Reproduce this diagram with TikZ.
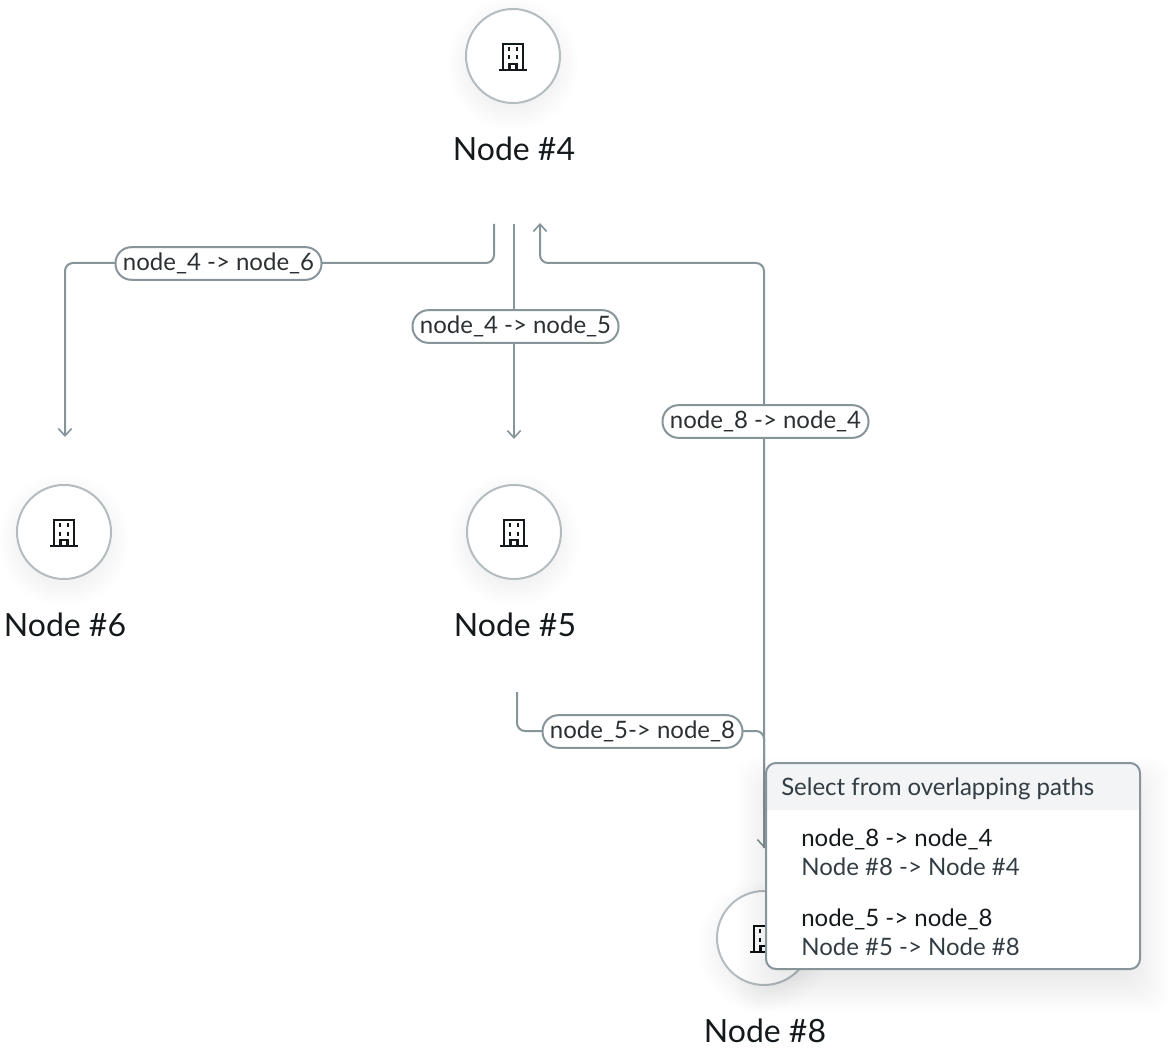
\documentclass[tikz,border=0pt]{standalone}
\usepackage{fontspec}
\setmainfont{Lato}
\usetikzlibrary{arrows.meta}
\definecolor{linec}{HTML}{87949A}
\definecolor{circc}{HTML}{B4BCC0}
\definecolor{inkc}{HTML}{14191C}
\definecolor{greyt}{HTML}{323D44}
\definecolor{headc}{HTML}{F2F4F6}
\tikzset{
  conn/.style={draw=linec,line width=1.5pt,rounded corners=6pt},
  arrowed/.style={-{Straight Barb[length=5.5pt,width=10pt,line width=1.2pt]}},
  nodecirc/.style={circle,draw=circc,line width=1.5pt,fill=white,minimum size=70.5pt,inner sep=0pt},
  nodelabel/.style={font=\fontsize{24}{28}\selectfont,text=inkc,inner sep=0pt,anchor=center},
  edgelabel/.style={draw=linec,line width=1.5pt,fill=white,rounded corners=12pt,font=\fontsize{18}{21}\selectfont,text=inkc!90!white,minimum height=24.5pt,inner sep=0pt,anchor=center},
  poptext/.style={anchor=west,inner sep=0pt,font=\fontsize{18}{21}\selectfont},
  pics/building/.style={code={
    \draw[inkc,line width=1.6pt,line join=miter] (-10,14) -- (-10,-12) -- (10,-12) -- (10,14);
    \draw[inkc,line width=1.8pt] (-14,14) -- (14,14);
    \draw[inkc,line width=1.6pt] (-3.5,14) -- (-3.5,8) -- (3.5,8) -- (3.5,14);
    \foreach \px in {-4,4} \foreach \py in {-7,1.5}
      \draw[inkc,line width=2pt] (\px,\py-2) -- (\px,\py+2);
  }}
}
\newcommand{\softcircle}[2]{%
  \foreach \rr in {44,46,...,66}
    \fill[black,opacity=0.0045] (#1,#2+9) circle[radius=\rr];
}
\begin{document}
\begin{tikzpicture}[x=0.75pt,y=-0.75pt]
\useasboundingbox (0,0) rectangle (1173,1048);
\softcircle{513}{55}\softcircle{64}{531}\softcircle{514}{531}\softcircle{764}{937}
\node[nodecirc] (n4) at (513,56) {};
\node[nodecirc] (n6) at (64,532) {};
\node[nodecirc] (n5) at (514,532) {};
\node[nodecirc] (n8) at (764,938) {};
\pic at (n4.center) {building};
\pic at (n6.center) {building};
\pic at (n5.center) {building};
\pic at (n8.center) {building};
\node[nodelabel] (l4) at (514,149) {Node \#4};
\node[nodelabel] (l6) at (65,625) {Node \#6};
\node[nodelabel] (l5) at (515,625) {Node \#5};
\node[nodelabel] (l8) at (765,1031) {Node \#8};
\coordinate (a1) at (494,224); \coordinate (a1e) at (65,437);
\coordinate (a2) at (514,224); \coordinate (a2e) at (514,439);
\coordinate (a3) at (764,848); \coordinate (a3e) at (540,223);
\coordinate (a4) at (517,692); \coordinate (a4e) at (764,848);
\draw[conn,arrowed] (a1) -- (494,263) -- (65,263) -- (a1e);
\draw[conn,arrowed] (a2) -- (a2e);
\draw[conn,arrowed] (a3) -- (764,263) -- (540,263) -- (a3e);
\draw[conn,arrowed] (a4) -- (517,731) -- (764,731) -- (a4e);
\node[edgelabel,minimum width=154.5pt] (e1) at (218.5,263.5) {node\_4 -> node\_6};
\node[edgelabel,minimum width=154.5pt] (e2) at (515.5,326.5) {node\_4 -> node\_5};
\node[edgelabel,minimum width=154.5pt] (e3) at (765.5,421.5) {node\_8 -> node\_4};
\node[edgelabel,minimum width=150pt] (e4) at (642.5,731.5) {node\_5-> node\_8};
\foreach \gg in {-8,-6,...,30}
  \fill[black,opacity=0.0055,rounded corners=14pt] (766-\gg,763+24-\gg) rectangle (1140+\gg,969+14+\gg);
\node[draw=none,fill=white,rounded corners=7.5pt,minimum width=280.5pt,minimum height=154.5pt,inner sep=0pt] (pop) at (953,866) {};
\begin{scope}
  \clip[rounded corners=7.5pt] (pop.north west) rectangle (pop.south east);
  \fill[headc] (pop.north west) rectangle (1140,810);
\end{scope}
\node[draw=linec,line width=1.5pt,rounded corners=7.5pt,minimum width=280.5pt,minimum height=154.5pt,inner sep=0pt] (popb) at (953,866) {};
\node[poptext,text=greyt] (p0) at (781,789) {Select from overlapping paths};
\node[poptext,text=inkc] (p1) at (801,839) {node\_8 -> node\_4};
\node[poptext,text=greyt] (p2) at (801,866.3) {Node \#8 -> Node \#4};
\node[poptext,text=inkc] (p3) at (801,919) {node\_5 -> node\_8};
\node[poptext,text=greyt] (p4) at (801,946.3) {Node \#5 -> Node \#8};
\end{tikzpicture}
\end{document}
